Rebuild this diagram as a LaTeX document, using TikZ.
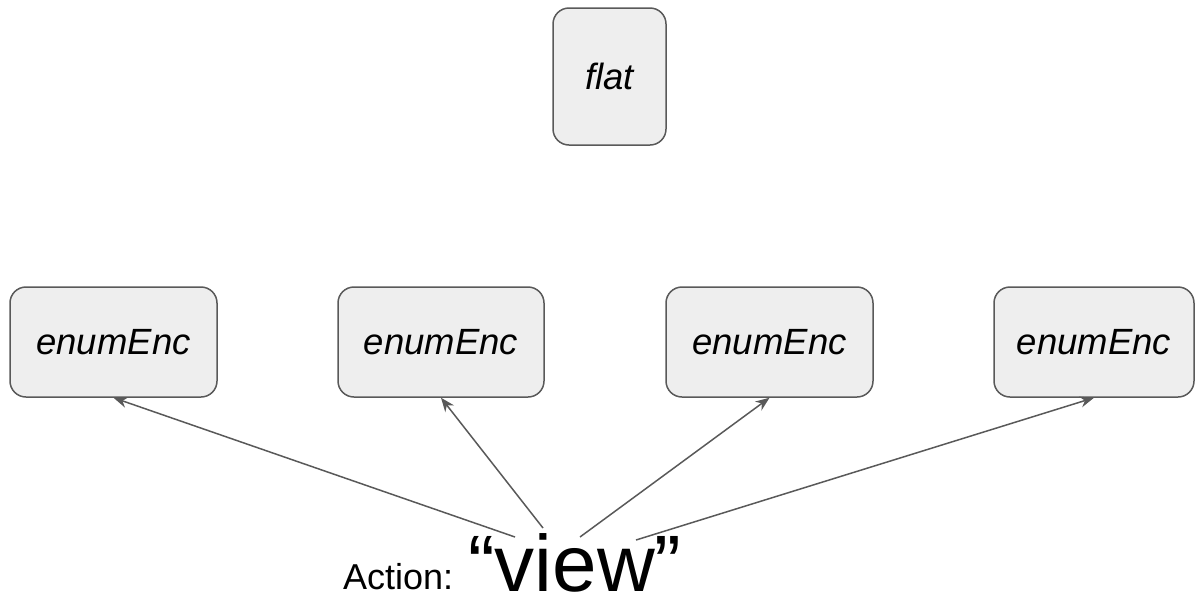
\documentclass[tikz,border=0pt]{standalone}
\usepackage{fontspec}
\setmainfont{Liberation Sans}
\usetikzlibrary{arrows.meta}
\definecolor{edgegray}{HTML}{595959}
\definecolor{boxfill}{HTML}{EEEEEE}
\tikzset{
  encbox/.style={draw=edgegray, fill=boxfill, line width=1.5pt, rounded corners=16pt,
    inner sep=0pt, font=\fontsize{36.5}{40}\selectfont\itshape},
  link/.style={draw=edgegray, line width=1.5pt, -{Stealth[length=14pt,width=11pt]}}
}
\begin{document}
\begin{tikzpicture}[x=1pt,y=-1pt]
  \useasboundingbox (0,0) rectangle (1196,595);
  % boxes
  \node[encbox, minimum width=113pt, minimum height=137pt] (flat) at (609.5,76.5) {flat};
  \node[encbox, minimum width=207pt, minimum height=110pt] (e1) at (113.5,342) {enumEnc};
  \node[encbox, minimum width=206pt, minimum height=110pt] (e2) at (441,342) {enumEnc};
  \node[encbox, minimum width=207pt, minimum height=110pt] (e3) at (769.5,342) {enumEnc};
  \node[encbox, minimum width=200pt, minimum height=110pt] (e4) at (1094,342) {enumEnc};
  % action label
  \node[anchor=base west, inner sep=0pt, font=\fontsize{36}{40}\selectfont] (act) at (343,589) {Action:};
  \node[anchor=base west, inner sep=0pt, font=\fontsize{80}{90}\selectfont] (view) at (468,591) {“view”};
  % arrow tails
  \coordinate (s1) at (515,537);
  \coordinate (s2) at (543,528);
  \coordinate (s3) at (580,537);
  \coordinate (s4) at (636,540);
  \draw[link] (s1) -- (e1.south);
  \draw[link] (s2) -- (e2.south);
  \draw[link] (s3) -- (e3.south);
  \draw[link] (s4) -- (e4.south);
\end{tikzpicture}
\end{document}
